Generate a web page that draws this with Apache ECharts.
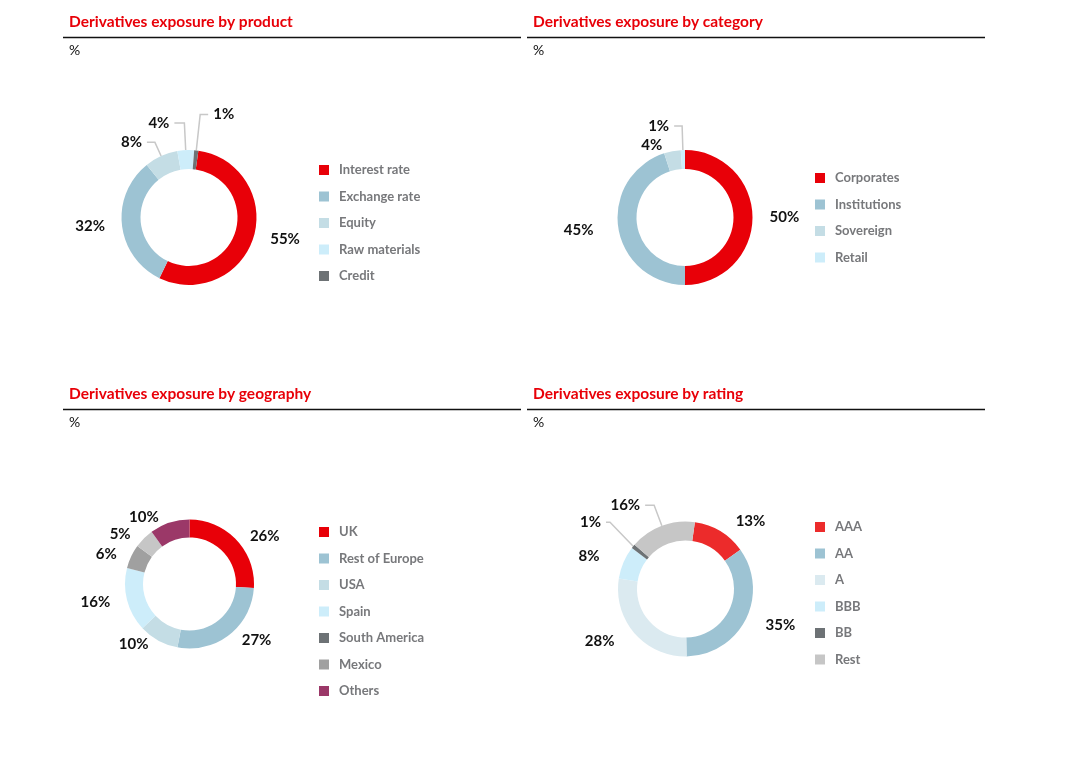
<!DOCTYPE html>
<html>
<head>
<meta charset="utf-8">
<script src="https://cdn.jsdelivr.net/npm/echarts@6/dist/echarts.min.js"></script>
<style>html,body{margin:0;padding:0;background:#fff;}#c{width:1067px;height:767px;}</style>
</head>
<body>
<div id="c"></div>
<script>
// ---- data ----
const titles = ['Derivatives exposure by product','Derivatives exposure by category','Derivatives exposure by geography','Derivatives exposure by rating'];
const unitLabel = '%';

const productNames = ['Interest rate','Exchange rate','Equity','Raw materials','Credit'];
const productValues = [55, 32, 8, 4, 1];

const categoryNames = ['Corporates','Institutions','Sovereign','Retail'];
const categoryValues = [50, 45, 4, 1];

const geographyNames = ['UK','Rest of Europe','USA','Spain','South America','Mexico','Others'];
const geographyValues = [26, 27, 10, 16, 6, 5, 10];

const ratingNames = ['AAA','AA','A','BBB','BB','Rest'];
const ratingValues = [13, 35, 28, 8, 1, 16];

// ---- styles ----
const RED = '#e80008';
const productColors = [RED,'#9dc3d3','#c4dde5','#cdedfa','#6d7275'];
const categoryColors = [RED,'#9dc3d3','#c4dde5','#cdedfa'];
const geographyColors = [RED,'#9dc3d3','#c4dde5','#cdedfa','#a0a0a0','#c6c6c6','#9b3868'];
const geographyLegendColors = [RED,'#9dc3d3','#c4dde5','#cdedfa','#6d7275','#a0a0a0','#9b3868'];
const ratingColors = ['#ec2b2b','#9dc3d3','#dbeaf0','#cdedfa','#6d7275','#c6c6c6'];

// per-slice label line settings [show, length, length2]
const productLines = [[false,8,4],[false,8,4],[true,15,8],[true,27,10],[true,36,8]];
const categoryLines = [[false,8,4],[false,14,6],[false,6,4],[true,24,8]];
const geographyLines = [[false,6,4],[false,6,4],[false,4,3],[false,8,4],[false,6,4],[false,6,4],[false,6,4]];
const ratingLines = [[false,12,4],[false,12,4],[false,12,6],[false,16,8],[true,50,4],[true,22,9]];

const FONT = 'Lato, "Open Sans", sans-serif';

function mkData(names, values, colors, lines) {
  return names.map((n, i) => ({
    name: n, value: values[i],
    itemStyle: {color: colors[i]},
    labelLine: {show: lines[i][0], length: lines[i][1], length2: lines[i][2]}
  }));
}
function mkLegend(names, colors, left, top) {
  return {
    orient: 'vertical', left: left, top: top, padding: 0,
    itemWidth: 10, itemHeight: 10, itemGap: 13.5, icon: 'rect',
    selectedMode: false,
    data: names.map((n, i) => ({name: n, itemStyle: {color: colors[i]}})),
    textStyle: {fontFamily: FONT, fontWeight: 'bold', fontSize: 13, color: '#77787b', padding: [0,0,0,5]}
  };
}
function mkPie(data, center, radius, startAngle) {
  return {
    type: 'pie', center: center, radius: radius, startAngle: startAngle, clockwise: true,
    avoidLabelOverlap: true, silent: true, animation: false,
    label: {show: true, position: 'outside', formatter: '{c}%', fontFamily: FONT, fontWeight: 'bold', fontSize: 15, color: '#111'},
    labelLine: {lineStyle: {color: '#c8c8c8', width: 1.5}, smooth: false},
    data: data
  };
}
const panels = [
  {tx: 69, lx1: 63, lx2: 521, ty: 22},
  {tx: 533, lx1: 527, lx2: 985, ty: 22},
  {tx: 69, lx1: 63, lx2: 521, ty: 394},
  {tx: 533, lx1: 527, lx2: 985, ty: 394}
];
const graphics = [];
panels.forEach((p, i) => {
  graphics.push({type: 'text', x: p.tx, y: p.ty, style: {text: titles[i], fill: RED, font: 'bold 15.5px ' + FONT, textVerticalAlign: 'middle'}});
  graphics.push({type: 'line', shape: {x1: p.lx1, y1: p.ty + 15.5, x2: p.lx2, y2: p.ty + 15.5}, style: {stroke: '#111', lineWidth: 1.3}});
  graphics.push({type: 'text', x: p.tx, y: p.ty + 28, style: {text: unitLabel, fill: '#111', font: '14px ' + FONT, textVerticalAlign: 'middle'}});
});

const chart = echarts.init(document.getElementById('c'), null, {renderer: 'canvas'});
chart.setOption({
  backgroundColor: '#fff',
  animation: false,
  graphic: graphics,
  legend: [
    mkLegend(productNames, productColors, 319, 163.5),
    mkLegend(categoryNames, categoryColors, 815, 171.5),
    mkLegend(geographyNames, geographyLegendColors, 319, 525.5),
    mkLegend(ratingNames, ratingColors, 815, 520.5)
  ],
  series: [
    mkPie(mkData(productNames, productValues, productColors, productLines), [189, 217.5], [48.5, 67.5], 82),
    mkPie(mkData(categoryNames, categoryValues, categoryColors, categoryLines), [685, 217.5], [48.5, 67.5], 90),
    mkPie(mkData(geographyNames, geographyValues, geographyColors, geographyLines), [189.5, 584], [46.5, 64.5], 90),
    mkPie(mkData(ratingNames, ratingValues, ratingColors, ratingLines), [685.5, 589], [48.5, 67.5], 82)
  ]
});
</script>
</body>
</html>
